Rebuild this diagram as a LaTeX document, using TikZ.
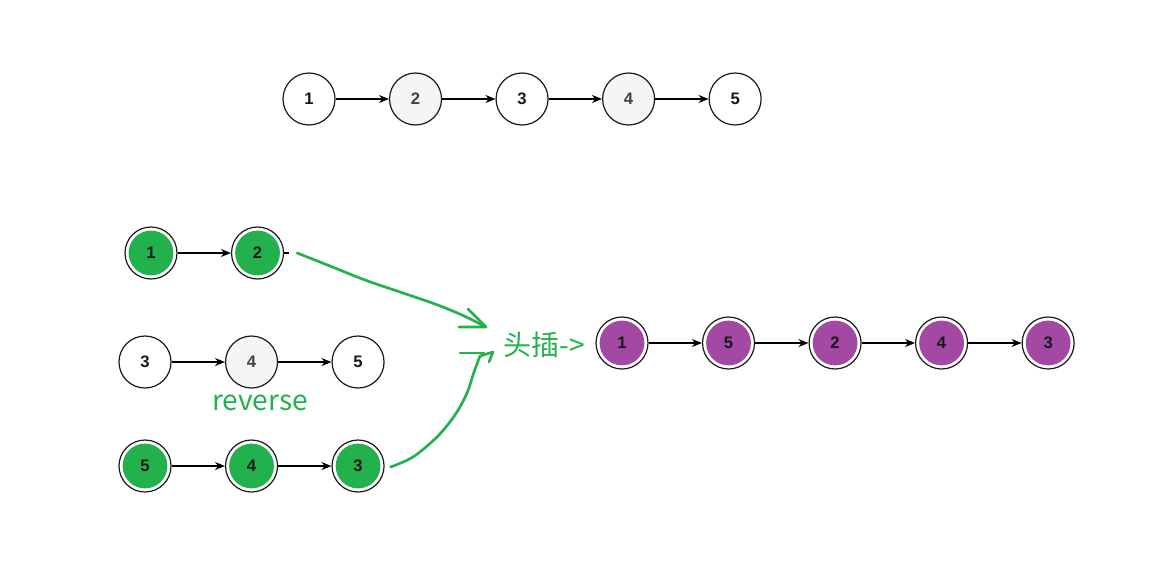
\documentclass[tikz,border=0pt]{standalone}
\usepackage{fontspec}
\setmainfont{Liberation Sans}
\newfontfamily\cjk{Noto Sans CJK SC}
\usepackage{xcolor}
\usetikzlibrary{arrows.meta, positioning, calc}

\definecolor{pgreen}{RGB}{34,177,76}
\definecolor{ppurple}{RGB}{163,73,164}

\begin{document}
\begin{tikzpicture}[
  x=0.75pt, y=-0.75pt,
  node distance=40pt,
  every node/.style={font=\fontsize{12.5}{14}\selectfont\bfseries},
  item/.style={circle, draw=black!90, line width=0.9pt, minimum size=39pt,
               inner sep=0pt, fill=white, text=black!90},
  grey/.style={item, fill=black!4, text=black!75},
  gitem/.style={item, path picture={\fill[pgreen]
               (path picture bounding box.center) circle (16.8pt);}},
  pitem/.style={item, path picture={\fill[ppurple]
               (path picture bounding box.center) circle (16.8pt);}},
  arrow/.style={-{Stealth[length=7.5pt, width=6pt]}, line width=0.9pt},
  pen/.style={pgreen, line width=2pt, line cap=round, line join=round},
  note/.style={font=\cjk\fontsize{21}{24}\selectfont, text=pgreen},
]
\useasboundingbox (0,0) rectangle (1159,586);

% original list
\node[item] (a1) at (309,99) {1};
\node[grey, right=of a1] (a2) {2};
\node[item, right=of a2] (a3) {3};
\node[grey, right=of a3] (a4) {4};
\node[item, right=of a4] (a5) {5};
\draw[arrow] (a1) -- (a2);
\draw[arrow] (a2) -- (a3);
\draw[arrow] (a3) -- (a4);
\draw[arrow] (a4) -- (a5);

% first half
\node[gitem] (b1) at (151,253) {1};
\node[gitem, right=of b1] (b2) {2};
\draw[arrow] (b1) -- (b2);
\draw[line width=0.9pt] (b2.east) -- ++(5,0);

% second half
\node[item] (c3) at (145,362) {3};
\node[grey, right=of c3] (c4) {4};
\node[item, right=of c4] (c5) {5};
\draw[arrow] (c3) -- (c4);
\draw[arrow] (c4) -- (c5);
\node[note] (rev) at (260,403) {reverse};

% reversed second half
\node[gitem] (d5) at (145,466) {5};
\node[gitem, right=of d5] (d4) {4};
\node[gitem, right=of d4] (d3) {3};
\draw[arrow] (d5) -- (d4);
\draw[arrow] (d4) -- (d3);

% merged result
\node[note] (ins) at (544,345) {头插->};
\node[pitem] (e1) at (622,343) {1};
\node[pitem, right=of e1] (e5) {5};
\node[pitem, right=of e5] (e2) {2};
\node[pitem, right=of e2] (e4) {4};
\node[pitem, right=of e4] (e3) {3};
\draw[arrow] (e1) -- (e5);
\draw[arrow] (e5) -- (e2);
\draw[arrow] (e2) -- (e4);
\draw[arrow] (e4) -- (e3);

% hand drawn strokes
\coordinate (s1) at ($(b2.east)+(13,0)$);
\coordinate (t1) at (486,327);
\draw[pen] plot[smooth] coordinates {(s1) (330,266) (365,280) (400,292)
      (435,304) (462,315) (t1)};
\draw[pen] (468,309) -- (t1) -- (459,327);
\coordinate (s2) at ($(d3.east)+(6,1)$);
\coordinate (t2) at (480,356);
\draw[pen] plot[smooth] coordinates {(s2) (413,457) (437,437) (455,415)
      (467,393) (474,372) (t2)};
\draw[pen] (460,353) -- (484,353);
\draw[pen] (t2) -- (493,352) -- (489,362);
\end{tikzpicture}
\end{document}
